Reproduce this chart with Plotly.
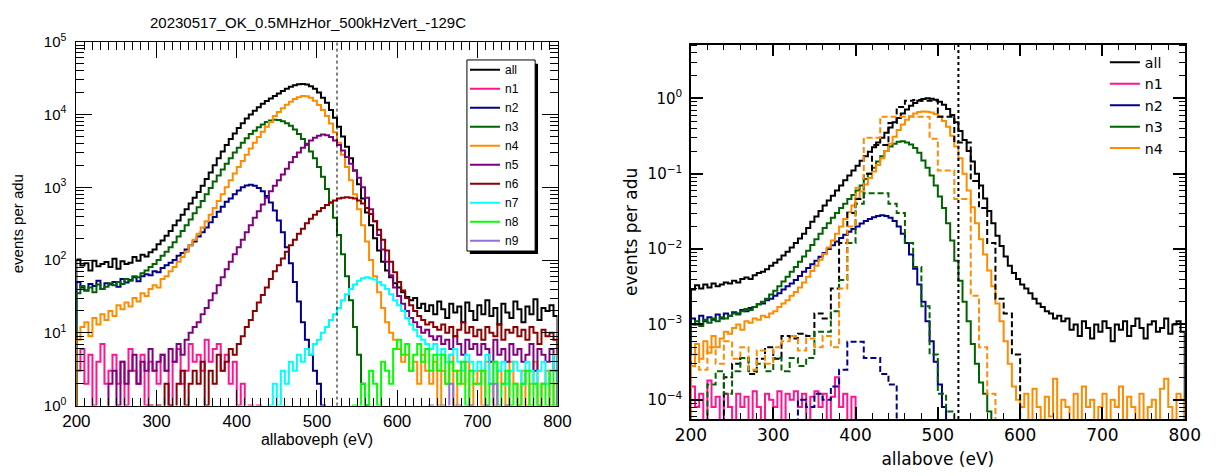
import numpy as np
import plotly.graph_objects as go

# ---------------- data: left panel (counts per 5 eV bin) ----------------
L_BIN = 5.0
l_all_start = 200
l_all = [102, 84, 90, 72, 98, 82, 88, 94,
         80, 104, 76, 96, 88, 92, 110, 98, 118, 112,
         128, 140, 165, 185, 215, 250, 300, 350, 420, 500,
         600, 720, 860, 1050, 1300, 1600, 2000, 2500, 3100, 3800,
         4600, 5500, 6500, 7600, 8800, 10000, 11300, 12600, 14000, 15300,
         16600, 18000, 19500, 21000, 22500, 24000, 25200, 26000, 26200, 25800,
         24500, 22500, 20000, 17000, 14500, 11500, 9000, 6800, 5000, 3600,
         2500, 1700, 1100, 700, 450, 300, 200, 135, 95, 72,
         58, 48, 42, 36, 31, 28, 30, 22, 25, 20,
         24, 18, 27, 21, 16, 25, 19, 23, 14, 26,
         20, 15, 24, 18, 28, 17, 22, 13, 25, 19,
         16, 27, 21, 14, 23, 18, 29, 15, 22, 20, 24, 17]
l_n1_start = 200
l_n1 = [3, 6, 2, 5, 1, 4, 7, 2, 3, 5,
        2, 4, 1, 6, 3, 2, 5, 1, 4, 3,
        2, 5, 3, 1, 4, 6, 2, 3, 7, 4,
        5, 3, 8, 4, 6, 7, 3, 5, 2, 4,
        1, 2, 0, 1, 0, 1]
l_n2_start = 200
l_n2 = [50, 42, 38, 47, 44, 52, 40, 48,
        46, 50, 43, 55, 49, 53, 58, 51, 60, 64,
        62, 70, 68, 78, 85, 92, 100, 115, 125, 140,
        160, 180, 210, 240, 280, 330, 390, 460, 540, 630,
        700, 800, 900, 1000, 1060, 1080, 1050, 980, 880, 760,
        620, 480, 350, 240, 150, 90, 50, 27, 14, 8,
        5, 3, 2, 1]
l_n3_start = 200
l_n3 = [35, 44, 38, 42, 36, 46, 40, 43, 48,
        45, 50, 47, 55, 52, 60, 58, 66, 72, 80,
        88, 100, 115, 130, 150, 175, 210, 250, 300, 360,
        440, 530, 650, 800, 980, 1200, 1450, 1750, 2100, 2500,
        3000, 3500, 4100, 4700, 5400, 6000, 6700, 7300, 7900, 8300,
        8500, 8400, 8100, 7600, 7000, 6200, 5400, 4600, 3800, 3100,
        2500, 1900, 1400, 950, 620, 380, 220, 120, 60, 28,
        12, 5, 2, 1]
l_n4_start = 200
l_n4 = [8, 12, 14, 9, 16, 13, 18, 15, 20,
        17, 24, 21, 26, 23, 30, 27, 35, 32, 40,
        45, 42, 55, 60, 70, 80, 95, 110, 130, 160,
        190, 230, 280, 340, 420, 520, 650, 800, 1000, 1250,
        1550, 1900, 2300, 2800, 3400, 4100, 4900, 5800, 6800, 7900,
        9500, 10800, 12200, 13600, 15000, 16300, 17300, 18000, 17800, 17000,
        15500, 13500, 11500, 9500, 7500, 5700, 4100, 2800, 1900, 1250,
        800, 500, 300, 180, 100, 60, 36, 22, 14, 10,
        8, 6, 4, 5, 3, 4, 2, 5, 3, 2,
        4, 1, 3, 2, 5, 1, 3, 2, 4, 1,
        2, 3, 1, 4, 2, 1, 3, 2, 1, 4,
        2, 1, 3, 1, 2, 4, 1, 2, 3, 1, 2]
l_n5_start = 240
l_n5 = [2, 3,
        1, 4, 2, 3, 5, 2, 4, 3, 6, 3,
        4, 5, 3, 6, 4, 7, 5, 8, 10, 12,
        14, 18, 22, 28, 35, 45, 58, 75, 95, 120,
        150, 190, 240, 300, 380, 470, 580, 720, 880, 1050,
        1250, 1500, 1800, 2200, 2600, 3000, 3500, 3950, 4400, 4800,
        5100, 5300, 5200, 4900, 4400, 3800, 3200, 2600, 2100, 1700,
        1350, 1000, 720, 500, 340, 220, 140, 95, 62, 42,
        32, 25, 20, 16, 14, 12, 10, 11, 9, 8,
        9, 7, 8, 6, 9, 7, 5, 8, 6, 7,
        5, 7, 6, 4, 8, 5, 6, 4, 7, 5,
        6, 4, 5, 7, 3, 6, 5, 4, 6, 3]
l_n6_start = 290
l_n6 = [1, 0,
        1, 0, 2, 1, 0, 2, 3, 1, 2, 3,
        2, 4, 1, 3, 2, 5, 3, 4, 6, 5,
        7, 9, 12, 15, 20, 26, 33, 42, 55, 70,
        85, 105, 130, 160, 190, 230, 270, 320, 370, 420,
        470, 520, 570, 620, 660, 700, 720, 730, 720, 700,
        660, 600, 520, 430, 340, 260, 190, 135, 95, 68,
        50, 38, 30, 24, 20, 17, 15, 13, 14, 12,
        11, 13, 10, 12, 9, 11, 14, 10, 12, 9,
        11, 8, 12, 10, 9, 13, 8, 11, 10, 12,
        9, 11, 8, 12, 10, 7, 11, 9, 10, 8]
l_n7_start = 440
l_n7 = [1, 2, 1, 3, 2, 4, 3, 5, 4, 6, 5, 7,
        8, 10, 12, 15, 18, 22, 28, 34, 40, 46,
        52, 56, 58, 56, 54, 50, 45, 40, 34, 28,
        24, 20, 16, 13, 11, 9, 8, 7, 6, 7,
        5, 6, 4, 5, 6, 4, 3, 5, 4, 3,
        4, 3, 5, 2, 4, 3, 4, 2, 3, 4,
        3, 2, 4, 3, 2, 3, 4, 2, 3, 5]
l_n8_start = 545
l_n8 = [1, 0, 2, 1, 3, 2, 1, 4, 3, 2, 6,
        8, 5, 7, 3, 5, 7, 4, 6, 3, 5,
        3, 5, 2, 4, 3, 2, 4, 1, 3, 2,
        2, 3, 1, 2, 4, 1, 2, 3, 1, 2,
        1, 2, 3, 1, 2, 1, 2, 1, 3, 1]
l_n9_start = 640
l_n9 = [1, 0, 0, 1, 0, 2, 0, 1, 0, 0,
        1, 0, 0, 0, 1, 0, 2, 0, 0, 1]

# ---------------- data: right panel (events per adu) ----------------
R_BIN = 5.0
R_BIN_D = 10.0
r_all_start = 200
r_all = [2.9e-3, 3.3e-3, 3.0e-3, 3.4e-3, 3.1e-3, 3.5e-3, 3.2e-3, 3.4e-3, 3.6e-3,
         3.5e-3, 3.8e-3, 3.6e-3, 4.0e-3, 4.2e-3, 4.0e-3, 4.5e-3, 4.8e-3, 5.0e-3, 5.4e-3,
         6.0e-3, 6.6e-3, 7.3e-3, 8.2e-3, 9.2e-3, 0.0105, 0.012, 0.0138, 0.016, 0.019,
         0.023, 0.027, 0.032, 0.038, 0.044, 0.051, 0.06, 0.07, 0.082, 0.095,
         0.11, 0.128, 0.148, 0.17, 0.195, 0.225, 0.26, 0.3, 0.35, 0.41,
         0.48, 0.55, 0.63, 0.71, 0.8, 0.87, 0.93, 0.98, 1.0, 0.99,
         0.96, 0.9, 0.82, 0.72, 0.6, 0.48, 0.37, 0.28, 0.2, 0.145,
         0.1, 0.07, 0.047, 0.032, 0.022, 0.015, 0.011, 0.008, 0.006, 0.0048,
         4.0e-3, 3.4e-3, 3.0e-3, 2.6e-3, 2.2e-3, 1.9e-3, 1.7e-3, 1.5e-3, 1.4e-3, 1.2e-3,
         1.3e-3, 1.1e-3, 1.2e-3, 8.5e-4, 1.0e-3, 7e-4, 1.1e-3, 9e-4, 6.5e-4, 1.0e-3,
         8e-4, 1.1e-3, 9e-4, 6e-4, 1.0e-3, 8.5e-4, 1.1e-3, 7e-4, 9.5e-4, 1.2e-3,
         9e-4, 6.5e-4, 1.0e-3, 1.1e-3, 8e-4, 9e-4, 1.2e-3, 7.5e-4, 1.0e-3, 1.1e-3, 8e-4]
r_n1_start = 200
r_n1 = [1.5e-4, 8e-5, 1.2e-4, 0, 1.8e-4, 8e-5, 1.1e-4, 0, 1.2e-4, 8e-5,
        0, 1.2e-4, 8e-5, 1.1e-4, 0, 1.3e-4, 8e-5, 0, 1.2e-4, 1e-4,
        8e-5, 1.3e-4, 0, 1.2e-4, 1e-4, 1.3e-4, 8e-5, 1.2e-4, 0, 1.1e-4,
        1.3e-4, 8e-5, 1.2e-4, 0, 1.1e-4, 2e-4, 8e-5, 1.2e-4, 0, 1.1e-4]
r_n2_start = 200
r_n2 = [1.2e-3, 1.0e-3, 1.3e-3, 1.1e-3, 1.25e-3, 1.15e-3, 1.35e-3, 1.2e-3, 1.4e-3,
        1.3e-3, 1.45e-3, 1.4e-3, 1.55e-3, 1.5e-3, 1.65e-3, 1.7e-3, 1.85e-3, 1.9e-3, 2.1e-3,
        2.2e-3, 2.4e-3, 2.6e-3, 2.9e-3, 3.2e-3, 3.5e-3, 3.9e-3, 4.4e-3, 5.0e-3, 5.6e-3,
        6.3e-3, 7.0e-3, 7.9e-3, 8.9e-3, 0.01, 0.0112, 0.0126, 0.014, 0.0155, 0.017,
        0.0185, 0.02, 0.0218, 0.0235, 0.025, 0.0265, 0.0275, 0.028, 0.0275, 0.026,
        0.0235, 0.02, 0.016, 0.012, 8.5e-3, 5.5e-3, 3.4e-3, 2.0e-3, 1.1e-3, 6e-4,
        3.2e-4, 1.6e-4, 8e-5]
r_n3_start = 200
r_n3 = [1.0e-3, 1.1e-3, 9.5e-4, 1.15e-3, 1.05e-3, 1.2e-3, 1.1e-3, 1.25e-3, 1.2e-3, 1.3e-3,
        1.4e-3, 1.35e-3, 1.5e-3, 1.6e-3, 1.55e-3, 1.7e-3, 1.85e-3, 2.0e-3, 2.2e-3, 2.5e-3,
        2.8e-3, 3.2e-3, 3.7e-3, 4.3e-3, 5.0e-3, 5.8e-3, 6.8e-3, 8.0e-3, 9.5e-3, 0.0113,
        0.0135, 0.016, 0.019, 0.022, 0.026, 0.03, 0.035, 0.04, 0.046, 0.052,
        0.06, 0.07, 0.085, 0.1, 0.12, 0.145, 0.17, 0.2, 0.23, 0.25,
        0.265, 0.27, 0.26, 0.245, 0.22, 0.19, 0.15, 0.12, 0.095, 0.07,
        0.05, 0.035, 0.022, 0.013, 7e-3, 3.8e-3, 2e-3, 1.1e-3, 5.5e-4, 3e-4,
        1.7e-4, 1.2e-4, 7e-5]
r_n4_start = 200
r_n4 = [2.8e-4, 5.5e-4, 3.5e-4, 6e-4, 4.2e-4, 7e-4, 5e-4, 6.5e-4, 8e-4,
        7.5e-4, 9e-4, 1.0e-3, 8.5e-4, 1.1e-3, 1.05e-3, 1.2e-3, 1.15e-3, 1.3e-3, 1.25e-3,
        1.4e-3, 1.5e-3, 1.7e-3, 1.9e-3, 2.1e-3, 2.4e-3, 2.7e-3, 3.1e-3, 3.6e-3, 4.3e-3,
        5.1e-3, 6.0e-3, 7.2e-3, 8.6e-3, 0.0105, 0.013, 0.016, 0.02, 0.025, 0.031,
        0.038, 0.047, 0.058, 0.072, 0.088, 0.107, 0.13, 0.16, 0.2, 0.25,
        0.31, 0.38, 0.45, 0.52, 0.58, 0.63, 0.66, 0.67, 0.665, 0.65,
        0.62, 0.58, 0.5, 0.42, 0.32, 0.23, 0.16, 0.1, 0.06, 0.036,
        0.022, 0.0135, 0.0085, 5.2e-3, 3.2e-3, 1.9e-3, 1.1e-3, 6e-4, 3e-4, 1.5e-4,
        1e-4, 8e-5, 1.2e-4, 0, 1.4e-4, 8e-5, 0, 1.1e-4, 6e-5, 1.9e-4,
        0, 1e-4, 8e-5, 0, 1.2e-4, 0, 1.5e-4, 8e-5, 1e-4, 0,
        8e-5, 1.2e-4, 0, 1e-4, 8e-5, 1.5e-4, 0, 1.1e-4, 8e-5, 0,
        1.2e-4, 0, 8e-5, 1e-4, 0, 1.4e-4, 1.9e-4, 8e-5, 0, 1.2e-4, 1e-4]
# dashed series (10 eV bins)
r_all_d_start = 240
r_all_d = [2e-4, 3e-4, 3.6e-4, 2.2e-4, 3.5e-4, 5e-4, 3.5e-4, 7e-4, 6.5e-4, 7.5e-4,
           7e-4, 1.4e-3, 1.2e-3, 3e-3, 0.012, 0.03, 0.046, 0.1, 0.24, 0.24,
           0.47, 0.77, 0.93, 0.95, 0.93, 0.93, 0.57, 0.57, 0.26, 0.26,
           0.08, 0.035, 0.012, 2.2e-3, 1.4e-3, 4e-4]
r_n2_d_start = 330
r_n2_d = [1e-4, 8e-5, 1.2e-4, 1e-4, 1.5e-4, 2.5e-4, 5.9e-4, 5.9e-4, 3.6e-4, 3.6e-4,
          2.2e-4, 1.6e-4]
r_n3_d_start = 220
r_n3_d = [1.6e-4, 2.4e-4, 1.2e-4, 2.4e-4, 3.6e-4, 2.4e-4, 3e-4, 2.4e-4, 3.6e-4, 2.4e-4,
          3.6e-4, 2.8e-4, 3.6e-4, 8e-4, 8e-4, 1.5e-3, 3.9e-3, 0.012, 0.04, 0.055,
          0.055, 0.055, 0.04, 0.03, 0.012, 5.8e-3, 1.75e-3, 4e-4, 1.2e-4, 7e-5]
r_n4_d_start = 200
r_n4_d = [4e-4, 2.5e-4, 5e-4, 3e-4, 6e-4, 3.5e-4, 5e-4, 2.5e-4, 4.5e-4, 3e-4,
          5e-4, 6e-4, 7e-4, 4.5e-4, 6.5e-4, 5e-4, 7e-4, 5e-4, 3e-3, 0.02,
          0.065, 0.3, 0.3, 0.57, 0.57, 0.57, 0.57, 0.57, 0.57, 0.29,
          0.11, 0.11, 0.046, 0.046, 2.4e-3, 5e-4, 1.2e-4]

left_names = ["all", "n1", "n2", "n3", "n4", "n5", "n6", "n7", "n8", "n9"]
left_series = [(l_all_start, l_all), (l_n1_start, l_n1), (l_n2_start, l_n2),
               (l_n3_start, l_n3), (l_n4_start, l_n4), (l_n5_start, l_n5),
               (l_n6_start, l_n6), (l_n7_start, l_n7), (l_n8_start, l_n8),
               (l_n9_start, l_n9)]
right_names = ["all", "n1", "n2", "n3", "n4"]
right_series = [(r_all_start, r_all), (r_n1_start, r_n1), (r_n2_start, r_n2),
                (r_n3_start, r_n3), (r_n4_start, r_n4)]
right_dashed = [("all", r_all_d_start, r_all_d), ("n2", r_n2_d_start, r_n2_d),
                ("n3", r_n3_d_start, r_n3_d), ("n4", r_n4_d_start, r_n4_d)]

x_range = [200, 800]
cut_energy = 525
title_text = "20230517_OK_0.5MHzHor_500kHzVert_-129C"

# ---------------- styling ----------------
colors = {"all": "#000000", "n1": "#ff1493", "n2": "#00008b", "n3": "#006400",
          "n4": "#ff8c00", "n5": "#800080", "n6": "#8b0000", "n7": "#00ffff",
          "n8": "#00ff00", "n9": "#9370db"}
FL = "Liberation Sans, Arial, sans-serif"
FR = "DejaVu Sans, sans-serif"
W, H = 1228, 476


def steps(start, width, vals, floor):
    v = np.asarray(vals, float)
    y = np.where(v > 0, v, floor)
    edges = start + width * np.arange(len(v) + 1)
    xs = np.concatenate([[edges[0]], edges, [edges[-1]]])
    ys = np.concatenate([[floor], y, [y[-1]], [floor]])
    return xs, ys


fig = go.Figure()

for name, (s, vals) in zip(left_names, left_series):
    xs, ys = steps(s, L_BIN, vals, 0.3)
    fig.add_trace(go.Scatter(x=xs, y=ys, mode="lines", line_shape="hv", name=name,
                             line=dict(color=colors[name], width=2),
                             xaxis="x", yaxis="y", legend="legend"))

for name, (s, vals) in zip(right_names, right_series):
    xs, ys = steps(s, R_BIN, vals, 1e-6)
    fig.add_trace(go.Scatter(x=xs, y=ys, mode="lines", line_shape="hv", name=name,
                             line=dict(color=colors[name], width=2),
                             xaxis="x2", yaxis="y2", legend="legend2"))
for name, s, vals in right_dashed:
    xs, ys = steps(s, R_BIN_D, vals, 1e-6)
    fig.add_trace(go.Scatter(x=xs, y=ys, mode="lines", line_shape="hv", name=name + " dashed",
                             line=dict(color=colors[name], width=2, dash="6px,3px"),
                             xaxis="x2", yaxis="y2", showlegend=False, legend="legend2"))


def px_x(p):
    return p / W


def px_y(p):
    return 1 - p / H


dec_l = [10 ** k for k in range(0, 6)]
minor_l = [m * 10 ** k for k in range(0, 5) for m in range(2, 10)]
dec_r = [10.0 ** k for k in range(-4, 1)]
minor_r = [m * 10.0 ** k for k in range(-5, 1) for m in range(2, 10)]

axL = dict(showline=True, linecolor="black", linewidth=1, mirror="allticks",
           ticks="inside", tickcolor="black", showgrid=False, zeroline=False)
axR = dict(showline=True, linecolor="black", linewidth=1.5, mirror="allticks",
           ticks="inside", tickcolor="black", showgrid=False, zeroline=False)

fig.update_layout(
    width=W, height=H, margin=dict(l=0, r=0, t=0, b=0),
    paper_bgcolor="white", plot_bgcolor="white",
    xaxis=dict(domain=[px_x(62), px_x(556)], anchor="y", range=x_range, dtick=100,
               ticklen=16, tickwidth=1, tickfont=dict(family=FL, size=17, color="black"),
               minor=dict(dtick=10, ticklen=8, ticks="inside", tickcolor="black"),
               title=dict(text="allaboveph (eV)", font=dict(family=FL, size=16, color="black"),
                          standoff=2),
               **axL),
    yaxis=dict(domain=[px_y(411), px_y(32)], anchor="x", type="log", range=[0, 5],
               tickvals=dec_l, ticktext=[f"10<sup>{k}</sup>" for k in range(0, 6)],
               ticklen=16, tickwidth=1, tickfont=dict(family=FL, size=15, color="black"),
               minor=dict(tickvals=minor_l, ticklen=8, ticks="inside", tickcolor="black"),
               ticklabelstandoff=6,
               title=dict(text="events per adu", font=dict(family=FL, size=15, color="black"),
                          standoff=16),
               **axL),
    xaxis2=dict(domain=[px_x(693), px_x(1200)], anchor="y2", range=x_range, dtick=100,
                ticklen=12, tickwidth=1.5, tickfont=dict(family=FR, size=17, color="black"),
                minor=dict(dtick=20, ticklen=6, ticks="inside", tickcolor="black", tickwidth=1.2),
                title=dict(text="allabove (eV)", font=dict(family=FR, size=17, color="black"),
                           standoff=9),
                **axR),
    yaxis2=dict(domain=[px_y(425), px_y(35)], anchor="x2", type="log",
                range=[-4.255, 0.713],
                tickvals=dec_r,
                ticktext=["10<sup>\u22124</sup>", "10<sup>\u22123</sup>", "10<sup>\u22122</sup>",
                          "10<sup>\u22121</sup>", "10<sup>0</sup>"],
                ticklen=12, tickwidth=1.5, tickfont=dict(family=FR, size=15, color="black"),
                minor=dict(tickvals=minor_r, ticklen=6, ticks="inside", tickcolor="black", tickwidth=1.2),
                ticklabelstandoff=4,
                title=dict(text="events per adu", font=dict(family=FR, size=17, color="black"),
                           standoff=6),
                **axR),
    legend=dict(x=px_x(461), y=px_y(46), xanchor="left", yanchor="top",
                bgcolor="rgba(0,0,0,0)", borderwidth=0,
                font=dict(family=FL, size=12, color="black"), tracegroupgap=0,
                itemwidth=30),
    legend2=dict(x=px_x(1118), y=px_y(37), xanchor="left", yanchor="top",
                 bgcolor="rgba(0,0,0,0)", borderwidth=0,
                 font=dict(family=FR, size=14.2, color="black"), itemwidth=30),
    showlegend=True,
)

# left legend frame with ROOT-like shadow
fig.add_shape(type="rect", xref="paper", yref="paper",
              x0=px_x(466), x1=px_x(536), y0=px_y(253), y1=px_y(55),
              fillcolor="black", line=dict(width=0), layer="above")
fig.add_shape(type="rect", xref="paper", yref="paper",
              x0=px_x(463), x1=px_x(533), y0=px_y(250), y1=px_y(51),
              fillcolor="white", line=dict(color="black", width=1), layer="above")

fig.add_shape(type="line", xref="x", yref="y domain", x0=cut_energy, x1=cut_energy, y0=0, y1=1,
              line=dict(color="black", width=1, dash="dot"))
fig.add_shape(type="line", xref="x2", yref="y2 domain", x0=cut_energy, x1=cut_energy, y0=0, y1=1,
              line=dict(color="black", width=2, dash="dot"))

fig.add_annotation(text=title_text, xref="paper", yref="paper", x=px_x(300), y=px_y(12),
                   showarrow=False, font=dict(family=FL, size=15, color="black"),
                   xanchor="center", yanchor="middle")

fig.write_html("out.html")
